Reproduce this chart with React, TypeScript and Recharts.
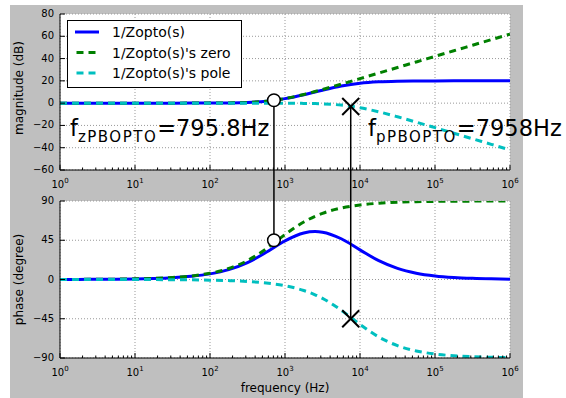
import React from "react";
import {
  LineChart,
  Line,
  XAxis,
  YAxis,
  CartesianGrid,
  ReferenceLine,
  ReferenceDot,
  Legend,
} from "recharts";

// ---------------- data ----------------
const FREQ = [1, 1.778, 3.162, 5.623, 10, 17.78, 31.62, 56.23, 100, 177.8, 316.2, 562.3, 1000, 1778, 2517, 3162, 5623, 10000, 17783, 31623, 56234, 100000, 177828, 316228, 562341, 1000000];
const MAG_TOTAL = [0, 0, 0, 0, 0, 0, 0.01, 0.02, 0.07, 0.21, 0.63, 1.74, 4.05, 7.57, 10.0, 11.61, 15.31, 17.9, 19.21, 19.74, 19.91, 19.97, 19.99, 19.99, 20.0, 20.0];
const MAG_ZERO = [0, 0, 0, 0, 0, 0, 0.01, 0.02, 0.07, 0.21, 0.64, 1.76, 4.11, 7.78, 10.42, 12.25, 17.07, 22.01, 26.99, 31.99, 36.98, 41.98, 46.98, 51.98, 56.98, 61.98];
const MAG_POLE = [0, 0, 0, 0, 0, 0, 0, 0, 0, 0, -0.01, -0.02, -0.07, -0.21, -0.41, -0.64, -1.76, -4.11, -7.78, -12.25, -17.07, -22.01, -26.99, -31.99, -36.98, -41.98];
const PHASE_TOTAL = [0.06, 0.12, 0.21, 0.36, 0.65, 1.15, 2.05, 3.64, 6.44, 11.32, 19.39, 31.2, 44.33, 53.3, 54.9, 54.2, 46.7, 33.96, 21.54, 12.69, 7.25, 4.09, 2.3, 1.3, 0.73, 0.41];
const PHASE_ZERO = [0.07, 0.13, 0.23, 0.4, 0.72, 1.28, 2.28, 4.04, 7.16, 12.6, 21.67, 35.24, 51.49, 65.9, 72.45, 75.87, 81.94, 85.45, 87.44, 88.56, 89.19, 89.54, 89.74, 89.86, 89.92, 89.95];
const PHASE_POLE = [-0.01, -0.01, -0.02, -0.04, -0.07, -0.13, -0.23, -0.4, -0.72, -1.28, -2.28, -4.04, -7.16, -12.6, -17.55, -21.67, -35.24, -51.49, -65.9, -75.87, -81.94, -85.45, -87.44, -88.56, -89.19, -89.54];

const SERIES_NAMES = ["1/Zopto(s)", "1/Zopto(s)'s zero", "1/Zopto(s)'s pole"];
const X_MAJOR = [1, 10, 100, 1000, 10000, 100000, 1000000];
const X_GRID = [10, 100, 1000, 10000, 100000];
const MINOR_MULT = [2, 3, 4, 5, 6, 7, 8, 9];
const MAG_TICKS = [-60, -40, -20, 0, 20, 40, 60, 80];
const PHASE_TICKS = [-90, -45, 0, 45, 90];

// marker positions (frequency, magnitude dB, phase deg)
const ZERO_MARK = { f: 712, mag: 2.6, phase: 45 };
const POLE_MARK = { f: 7520, mag: -3, phase: -45 };
const ZERO_LABEL = { main: "f", sub: "zPBOPTO", rest: "=795.8Hz" };
const POLE_LABEL = { main: "f", sub: "pPBOPTO", rest: "=7958Hz" };

// ---------------- style ----------------
const W = 566;
const TOP_H = 192;
const BOT_H = 206;
const FONT = "DejaVu Sans";
const C_BLUE = "#0000ff";
const C_GREEN = "#008000";
const C_CYAN = "#00bfbf";
const DASH = "7 5";
const COLORS = [C_BLUE, C_GREEN, C_CYAN];
const DASHES = [undefined, DASH, DASH];

const X_TICKS = X_MAJOR.concat(
  X_MAJOR.slice(0, 6).flatMap((d) => MINOR_MULT.map((m) => m * d))
).sort((a, b) => a - b);

const magData = FREQ.map((f, i) => ({ f, total: MAG_TOTAL[i], zero: MAG_ZERO[i], pole: MAG_POLE[i] }));
const phaseData = FREQ.map((f, i) => ({ f, total: PHASE_TOTAL[i], zero: PHASE_ZERO[i], pole: PHASE_POLE[i] }));

const isMajor = (v: number) => {
  const l = Math.log10(v);
  return Math.abs(l - Math.round(l)) < 1e-6;
};

const fmtNum = (v: number) => (v < 0 ? "\u2212" + Math.abs(v) : String(v));

function XTick(props: any) {
  const { x, y, payload, dir, label } = props;
  const major = isMajor(payload.value);
  const len = major ? 5 : 2.5;
  const exp = Math.round(Math.log10(payload.value));
  return (
    <g>
      <line x1={x} x2={x} y1={y} y2={y + dir * len} stroke="#000" strokeWidth={1} />
      {label && major ? (
        <text x={x} y={y + 18} textAnchor="middle" fontFamily={FONT} fontSize={10} fill="#000">
          10
          <tspan dy={-5} fontSize={7}>
            {exp}
          </tspan>
        </text>
      ) : null}
    </g>
  );
}

function YTick(props: any) {
  const { x, y, payload, dir, label } = props;
  return (
    <g>
      <line x1={x} x2={x + dir * 5} y1={y} y2={y} stroke="#000" strokeWidth={1} />
      {label ? (
        <text x={x - 6} y={y + 3} textAnchor="end" fontFamily={FONT} fontSize={10} fill="#000">
          {fmtNum(payload.value)}
        </text>
      ) : null}
    </g>
  );
}

function makeYLabel(text: string, dy: number) {
  return (props: any) => {
    const vb = props.viewBox || { y: 0, height: 150 };
    const cx = 23;
    const cy = vb.y + vb.height / 2 + dy;
    return (
      <text
        x={cx}
        y={cy}
        transform={`rotate(-90 ${cx} ${cy})`}
        textAnchor="middle"
        fontFamily={FONT}
        fontSize={12}
        fill="#000"
      >
        {text}
      </text>
    );
  };
}

function CircleMark(props: any) {
  const { cx, cy } = props;
  return <circle cx={cx} cy={cy} r={6.3} fill="#fff" stroke="#000" strokeWidth={1.5} />;
}

function CrossMark(props: any) {
  const { cx, cy } = props;
  const h = 8.5;
  return (
    <path
      d={`M${cx - h},${cy - h}L${cx + h},${cy + h}M${cx - h},${cy + h}L${cx + h},${cy - h}`}
      stroke="#000"
      strokeWidth={2}
      fill="none"
    />
  );
}

const downLine = (props: any) => {
  const top = Math.min(props.y1, props.y2);
  return <line x1={props.x1} x2={props.x1} y1={top} y2={TOP_H} stroke="#000" strokeWidth={1.5} />;
};
const upLine = (props: any) => {
  const bot = Math.max(props.y1, props.y2);
  return <line x1={props.x1} x2={props.x1} y1={0} y2={bot} stroke="#000" strokeWidth={1.5} />;
};

function LegendBox() {
  const rows = [12, 32.5, 53];
  return (
    <svg width={175} height={68} style={{ display: "block" }}>
      <rect x={0.5} y={0.5} width={174} height={67} fill="#fff" stroke="#000" strokeWidth={1} />
      {SERIES_NAMES.map((name, i) => (
        <g key={name}>
          {i === 0 ? (
            <line x1={8} x2={32} y1={rows[i]} y2={rows[i]} stroke={COLORS[i]} strokeWidth={3} />
          ) : (
            <line x1={9.5} x2={28.5} y1={rows[i]} y2={rows[i]} stroke={COLORS[i]} strokeWidth={3} strokeDasharray={DASH} />
          )}
          <text x={45} y={rows[i] + 5} fontFamily={FONT} fontSize={14} fill="#000">
            {name}
          </text>
        </g>
      ))}
    </svg>
  );
}

function Annotation({ x, y, lab }: any) {
  return (
    <text x={x} y={y} fontFamily={FONT} fontSize={22.5} fill="#000">
      {lab.main}
      <tspan fontSize={15} dy={5.5} letterSpacing={1.5}>
        {lab.sub}
      </tspan>
      <tspan fontSize={22.5} dy={-5.5} letterSpacing={0}>
        {lab.rest}
      </tspan>
    </text>
  );
}

function Axes({ ticks, yLabel, xLabel }: { ticks: number[]; yLabel: any; xLabel: boolean }) {
  return null;
}

function renderSeries(keys: string[]) {
  return keys.map((k, i) => (
    <Line
      key={k}
      xAxisId="b"
      yAxisId="l"
      dataKey={k}
      name={SERIES_NAMES[i]}
      type="monotone"
      stroke={COLORS[i]}
      strokeWidth={3}
      strokeDasharray={DASHES[i]}
      dot={false}
      activeDot={false}
      isAnimationActive={false}
    />
  ));
}

export default function App() {
  const keys = ["total", "zero", "pole"];
  const xCommon = {
    type: "number" as const,
    dataKey: "f",
    scale: "log" as const,
    domain: [1, 1000000],
    allowDataOverflow: true,
    ticks: X_TICKS,
    interval: 0 as const,
    tickSize: 0,
    tickMargin: 0,
    tickLine: false,
    axisLine: { stroke: "#000", strokeWidth: 1 },
  };
  return (
    <div style={{ position: "absolute", left: 0, top: 0, width: W, height: 398, overflow: "visible" }}>
      <div style={{ position: "absolute", left: 10, top: 5, width: 513, height: 393, background: "#bfbfbf" }} />

      {/* magnitude */}
      <div style={{ position: "absolute", left: 0, top: 0 }}>
        <LineChart width={W} height={TOP_H} data={magData} margin={{ top: 14, right: 56, bottom: 0, left: 0 }}>
          <XAxis xAxisId="g" {...xCommon} ticks={X_GRID} hide />
          <CartesianGrid xAxisId="g" yAxisId="l" fill="#fff" stroke="#999" strokeDasharray="1 2" />
          <XAxis xAxisId="b" {...xCommon} height={22} tick={(p: any) => <XTick {...p} dir={-1} label />} />
          <XAxis xAxisId="t" {...xCommon} orientation="top" height={0} tick={(p: any) => <XTick {...p} dir={1} />} />
          <YAxis
            yAxisId="l"
            type="number"
            domain={[-60, 80]}
            ticks={MAG_TICKS}
            interval={0}
            allowDataOverflow
            width={60}
            tickSize={0}
            tickMargin={0}
            tickLine={false}
            axisLine={{ stroke: "#000" }}
            tick={(p: any) => <YTick {...p} dir={1} label />}
            label={makeYLabel("magnitude (dB)", -4)}
          />
          <YAxis
            yAxisId="r"
            orientation="right"
            type="number"
            domain={[-60, 80]}
            ticks={MAG_TICKS}
            interval={0}
            allowDataOverflow
            width={0}
            tickSize={0}
            tickMargin={0}
            tickLine={false}
            axisLine={{ stroke: "#000" }}
            tick={(p: any) => <YTick {...p} dir={-1} />}
          />
          {renderSeries(keys)}
          <ReferenceLine
            xAxisId="b"
            yAxisId="l"
            ifOverflow="visible"
            segment={[{ x: ZERO_MARK.f, y: ZERO_MARK.mag }, { x: ZERO_MARK.f, y: -60 }]}
            shape={downLine}
          />
          <ReferenceLine
            xAxisId="b"
            yAxisId="l"
            ifOverflow="visible"
            segment={[{ x: POLE_MARK.f, y: POLE_MARK.mag }, { x: POLE_MARK.f, y: -60 }]}
            shape={downLine}
          />
          <ReferenceDot xAxisId="b" yAxisId="l" x={ZERO_MARK.f} y={ZERO_MARK.mag} ifOverflow="visible" shape={CircleMark} />
          <ReferenceDot xAxisId="b" yAxisId="l" x={POLE_MARK.f} y={POLE_MARK.mag} ifOverflow="visible" shape={CrossMark} />
          <Legend
            layout="horizontal"
            verticalAlign="middle"
            align="center"
            wrapperStyle={{ left: 67, top: 20, width: 175, height: 68, margin: 0, padding: 0, lineHeight: 0 }}
            content={() => <LegendBox />}
          />
        </LineChart>
      </div>

      {/* phase */}
      <div style={{ position: "absolute", left: 0, top: TOP_H }}>
        <LineChart width={W} height={BOT_H} data={phaseData} margin={{ top: 9, right: 56, bottom: 0, left: 0 }}>
          <XAxis xAxisId="g" {...xCommon} ticks={X_GRID} hide />
          <CartesianGrid xAxisId="g" yAxisId="l" fill="#fff" stroke="#999" strokeDasharray="1 2" />
          <XAxis
            xAxisId="b"
            {...xCommon}
            height={40}
            tick={(p: any) => <XTick {...p} dir={-1} label />}
            label={{ value: "frequency (Hz)", position: "insideBottom", offset: 6, fill: "#000", fontSize: 12, fontFamily: FONT }}
          />
          <XAxis xAxisId="t" {...xCommon} orientation="top" height={0} tick={(p: any) => <XTick {...p} dir={1} />} />
          <YAxis
            yAxisId="l"
            type="number"
            domain={[-90, 90]}
            ticks={PHASE_TICKS}
            interval={0}
            allowDataOverflow
            width={60}
            tickSize={0}
            tickMargin={0}
            tickLine={false}
            axisLine={{ stroke: "#000" }}
            tick={(p: any) => <YTick {...p} dir={1} label />}
            label={makeYLabel("phase (degree)", 0)}
          />
          <YAxis
            yAxisId="r"
            orientation="right"
            type="number"
            domain={[-90, 90]}
            ticks={PHASE_TICKS}
            interval={0}
            allowDataOverflow
            width={0}
            tickSize={0}
            tickMargin={0}
            tickLine={false}
            axisLine={{ stroke: "#000" }}
            tick={(p: any) => <YTick {...p} dir={-1} />}
          />
          {renderSeries(keys)}
          <ReferenceLine
            xAxisId="b"
            yAxisId="l"
            ifOverflow="visible"
            segment={[{ x: ZERO_MARK.f, y: 90 }, { x: ZERO_MARK.f, y: ZERO_MARK.phase }]}
            shape={upLine}
          />
          <ReferenceLine
            xAxisId="b"
            yAxisId="l"
            ifOverflow="visible"
            segment={[{ x: POLE_MARK.f, y: 90 }, { x: POLE_MARK.f, y: POLE_MARK.phase }]}
            shape={upLine}
          />
          <ReferenceDot xAxisId="b" yAxisId="l" x={ZERO_MARK.f} y={ZERO_MARK.phase} ifOverflow="visible" shape={CircleMark} />
          <ReferenceDot xAxisId="b" yAxisId="l" x={POLE_MARK.f} y={POLE_MARK.phase} ifOverflow="visible" shape={CrossMark} />
        </LineChart>
      </div>

      {/* annotations */}
      <svg
        width={W}
        height={398}
        style={{ position: "absolute", left: 0, top: 0, pointerEvents: "none", overflow: "visible" }}
      >
        <Annotation x={70} y={136} lab={ZERO_LABEL} />
        <Annotation x={368} y={136} lab={POLE_LABEL} />
      </svg>
    </div>
  );
}
